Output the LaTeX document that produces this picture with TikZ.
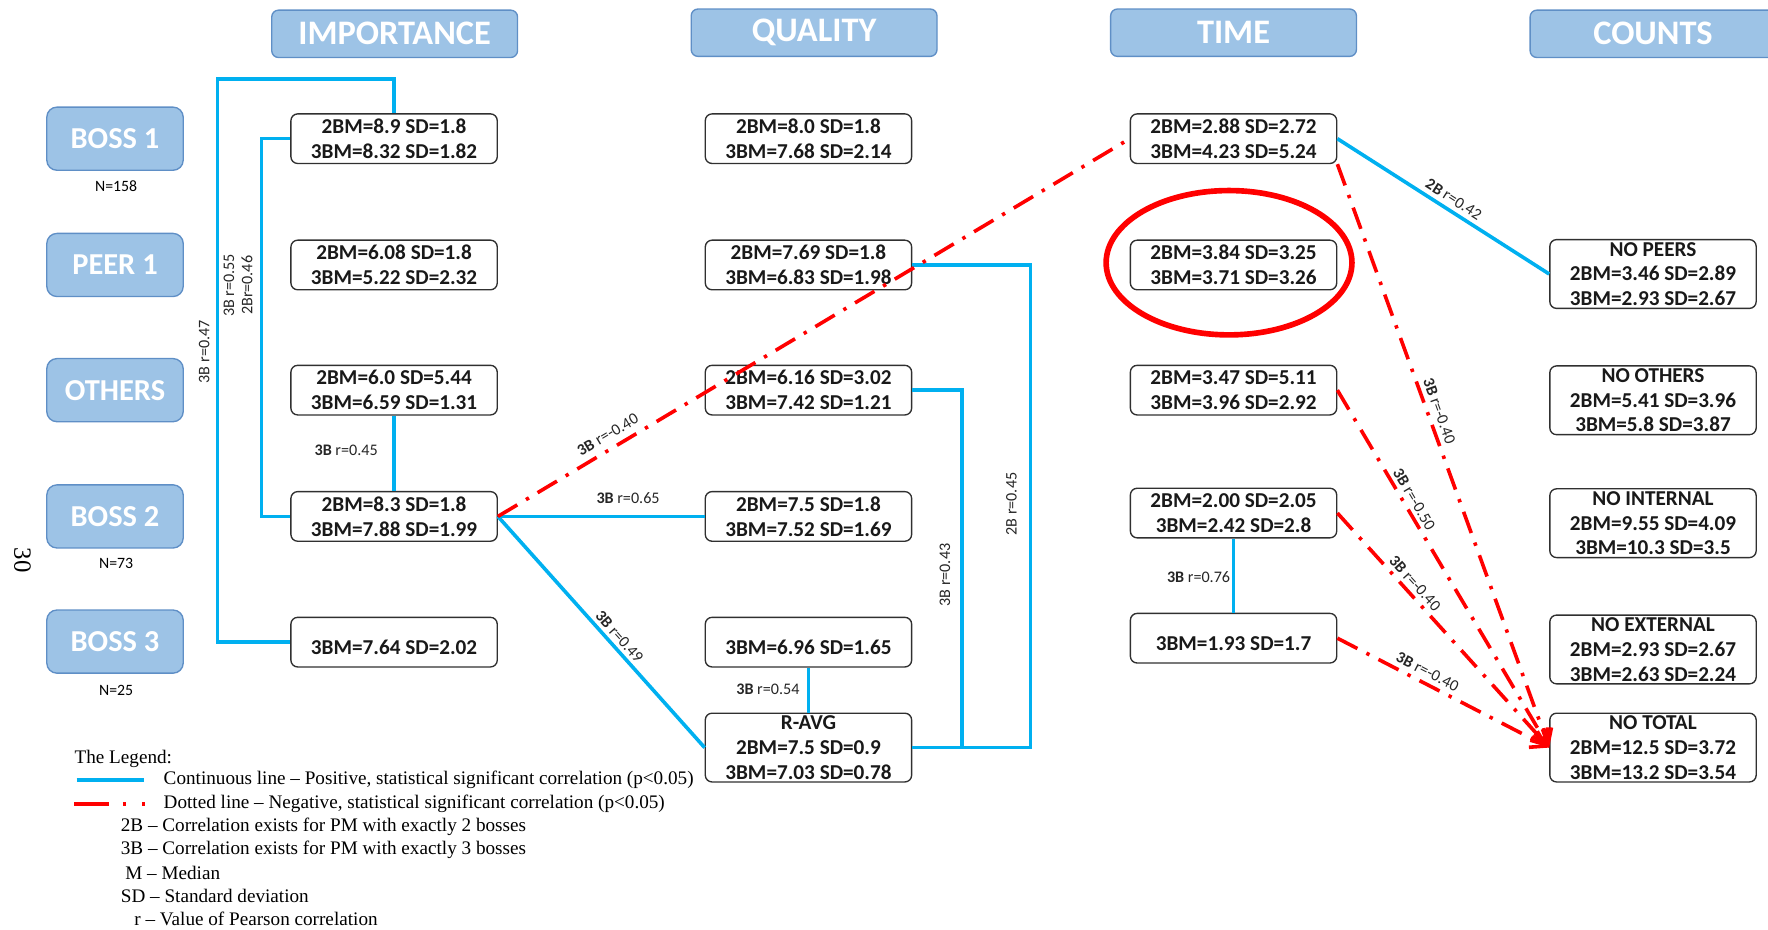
\documentclass[tikz,border=0pt]{standalone}
\usepackage{fontspec}
\setmainfont{Carlito}
\newfontfamily\legfont{Liberation Serif}
\usetikzlibrary{arrows.meta,shapes.geometric}
\definecolor{hdrfill}{HTML}{9DC3E6}
\definecolor{hdrdraw}{HTML}{5F8FC6}
\definecolor{posblue}{HTML}{00B0F0}
\definecolor{negred}{HTML}{FF0000}
\definecolor{boxline}{HTML}{303030}
\begin{document}
\begin{tikzpicture}[x=1pt,y=-1pt,
 hdr/.style={draw=hdrdraw, fill=hdrfill, line width=1.2pt, rounded corners=6pt, minimum width=218pt, minimum height=42pt, inner sep=0pt, text=white, font=\bfseries\fontsize{30.5}{31}\selectfont},
 rowlbl/.style={draw=hdrdraw, fill=hdrfill, line width=1.2pt, rounded corners=9pt, minimum width=121pt, minimum height=56pt, inner sep=0pt, text=white, font=\bfseries\fontsize{27}{28}\selectfont},
 dbox/.style={draw=boxline, fill=white, line width=1.2pt, rounded corners=6pt, minimum width=183pt, minimum height=44pt, inner sep=0pt, align=center, text=black!90, font=\bfseries\fontsize{18.8}{22}\selectfont},
 cbox/.style={dbox, minimum height=61pt},
 nlbl/.style={font=\fontsize{14}{15}\selectfont, inner sep=1pt},
 clbl/.style={font=\fontsize{14.3}{15}\selectfont, text=black!85, inner sep=1pt},
 posl/.style={draw=posblue, line width=3.2pt},
 negl/.style={draw=negred, line width=3.2pt, dash pattern=on 20pt off 9pt on 3pt off 9pt},
 negarr/.style={negl, -{Straight Barb[length=13pt,width=16pt]}},
 leg/.style={font=\legfont\fontsize{17}{18}\selectfont, anchor=west, inner sep=0pt},
]
\useasboundingbox (0,0) rectangle (1568,824);
\clip (0,0) rectangle (1568,824);

% headers
\node[hdr] (hImp) at (350,30) {IMPORTANCE};
\node[hdr] (hQual) at (722,29) {QUALITY};
\node[hdr] (hTime) at (1094,29) {TIME};
\node[hdr] (hCnt) at (1466,30) {COUNTS};

% row labels
\node[rowlbl] (rB1) at (102,123) {BOSS 1};
\node[rowlbl] (rP1) at (102,235) {PEER 1};
\node[rowlbl] (rOt) at (102,346) {OTHERS};
\node[rowlbl] (rB2) at (102,458) {BOSS 2};
\node[rowlbl] (rB3) at (102,569) {BOSS 3};
\node[nlbl] (nB1) at (103,165) {N=158};
\node[nlbl] (nB2) at (103,500) {N=73};
\node[nlbl] (nB3) at (103,612) {N=25};

% importance column
\node[dbox] (imp1) at (349.5,123) {2BM=8.9 SD=1.8\\3BM=8.32 SD=1.82};
\node[dbox] (imp2) at (349.5,235) {2BM=6.08 SD=1.8\\3BM=5.22 SD=2.32};
\node[dbox] (imp3) at (349.5,346) {2BM=6.0 SD=5.44\\3BM=6.59 SD=1.31};
\node[dbox] (imp4) at (349.5,458) {2BM=8.3 SD=1.8\\3BM=7.88 SD=1.99};
\node[dbox] (imp5) at (349.5,569.5) {\mbox{}\\3BM=7.64 SD=2.02};

% quality column
\node[dbox] (q1) at (717,123) {2BM=8.0 SD=1.8\\3BM=7.68 SD=2.14};
\node[dbox] (q2) at (717,235) {2BM=7.69 SD=1.8\\3BM=6.83 SD=1.98};
\node[dbox] (q3) at (717,346) {2BM=6.16 SD=3.02\\3BM=7.42 SD=1.21};
\node[dbox] (q4) at (717,458) {2BM=7.5 SD=1.8\\3BM=7.52 SD=1.69};
\node[dbox] (q5) at (717,569.5) {\mbox{}\\3BM=6.96 SD=1.65};
\node[cbox] (ravg) at (717,663) {R-AVG\\2BM=7.5 SD=0.9\\3BM=7.03 SD=0.78};

% time column
\node[dbox] (t1) at (1094,123) {2BM=2.88 SD=2.72\\3BM=4.23 SD=5.24};
\node[dbox] (t2) at (1094,235) {2BM=3.84 SD=3.25\\3BM=3.71 SD=3.26};
\node[dbox] (t3) at (1094,346) {2BM=3.47 SD=5.11\\3BM=3.96 SD=2.92};
\node[dbox] (t4) at (1094,455) {2BM=2.00 SD=2.05\\3BM=2.42 SD=2.8};
\node[dbox] (t5) at (1094,566) {\mbox{}\\3BM=1.93 SD=1.7};

% counts column
\node[cbox] (cPeer) at (1466,243) {NO PEERS\\2BM=3.46 SD=2.89\\3BM=2.93 SD=2.67};
\node[cbox] (cOth) at (1466,355) {NO OTHERS\\2BM=5.41 SD=3.96\\3BM=5.8 SD=3.87};
\node[cbox] (cInt) at (1466,464) {NO INTERNAL\\2BM=9.55 SD=4.09\\3BM=10.3 SD=3.5};
\node[cbox] (cExt) at (1466,576) {NO EXTERNAL\\2BM=2.93 SD=2.67\\3BM=2.63 SD=2.24};
\node[cbox] (cTot) at (1466,663) {NO TOTAL\\2BM=12.5 SD=3.72\\3BM=13.2 SD=3.54};

% positive correlations
\coordinate (b1) at (193,70);
\coordinate (b2) at (232,123);
\coordinate (b3) at (853,663);
\coordinate (b4) at (914,663);
\draw[posl] (imp1.north) |- (b1) |- (imp5.west);
\draw[posl] (imp1.west) -- (b2) |- (imp4.west);
\draw[posl] (imp3.south) -- (imp4.north);
\draw[posl] (imp4.east) -- (q4.west);
\draw[posl] (imp4.east) -- node[pos=0.55, sloped, above=2pt, clbl] (l049) {\textbf{3B} r=0.49} (ravg.west);
\draw[posl] (q5.south) -- (ravg.north);
\draw[posl] (ravg.east) -- (b3) |- (q3.east);
\draw[posl] (ravg.east) -- (b4) |- (q2.east);
\draw[posl] (t1.east) -- node[pos=0.52, sloped, above=3pt, clbl] (l042) {\textbf{2B} r=0.42} (cPeer.west);
\draw[posl] (t4.south) -- (t5.north);

\node[clbl, rotate=90] (l047) at (181,312) {3B r=0.47};
\node[clbl, rotate=90] (l055) at (203,253) {3B r=0.55};
\node[clbl, rotate=90] (l046) at (219,253) {2Br=0.46};
\node[clbl] (l045) at (307,399) {\textbf{3B} r=0.45};
\node[clbl] (l065) at (557,442) {\textbf{3B} r=0.65};
\node[clbl] (l054) at (681,611) {\textbf{3B} r=0.54};
\node[clbl, rotate=90] (l043) at (838,510) {3B r=0.43};
\node[clbl, rotate=90] (l045b) at (897,447) {2B r=0.45};
\node[clbl] (l076) at (1063,512) {\textbf{3B} r=0.76};

% negative correlations
\draw[negl] (imp4.east) -- node[pos=0.185, sloped, above=5pt, clbl] (n1) {\textbf{3B} r=-0.40} (t1.west);
\draw[negarr] (t1.south east) -- node[pos=0.43, sloped, above=3pt, clbl] (n2) {\textbf{3B} r=-0.40} (cTot.west);
\draw[negarr] (t3.east) -- node[pos=0.32, sloped, above=2pt, clbl] (n3) {\textbf{3B} r=-0.50} (cTot.west);
\draw[negarr] (t4.east) -- node[pos=0.33, sloped, above=2pt, clbl] (n4) {\textbf{3B} r=-0.40} (cTot.west);
\draw[negarr] (t5.east) -- node[pos=0.40, sloped, above=3pt, clbl] (n5) {\textbf{3B} r=-0.40} (cTot.west);

\node[ellipse, draw=negred, line width=5pt, minimum width=218pt, minimum height=128pt, inner sep=0pt] (ring) at (1090,233) {};

% page number
\node[font=\legfont\fontsize{22}{24}\selectfont, rotate=-90] (pg) at (20,497) {30};

% legend
\node[leg] (lg0) at (66,673) {The Legend:};
\coordinate (lgb1) at (68,692);
\coordinate (lgb2) at (128,692);
\draw[posl] (lgb1) -- (lgb2);
\node[leg] (lg1) at (145,692) {Continuous line – Positive, statistical significant correlation (p<0.05)};
\coordinate (lgr1) at (66,713);
\coordinate (lgr2) at (129,713);
\draw[draw=negred, line width=3.2pt, dash pattern=on 31pt off 12pt on 3pt off 14pt on 3pt off 20pt] (lgr1) -- (lgr2);
\node[leg] (lg2) at (145,713) {Dotted line – Negative, statistical significant correlation (p<0.05)};
\node[leg] (lg3) at (107,733) {2B – Correlation exists for PM with exactly 2 bosses};
\node[leg] (lg4) at (107,754) {3B – Correlation exists for PM with exactly 3 bosses};
\node[leg] (lg5) at (111,774) {M – Median};
\node[leg] (lg6) at (107,795) {SD – Standard deviation};
\node[leg] (lg7) at (119,815) {r – Value of Pearson correlation};
\end{tikzpicture}
\end{document}
